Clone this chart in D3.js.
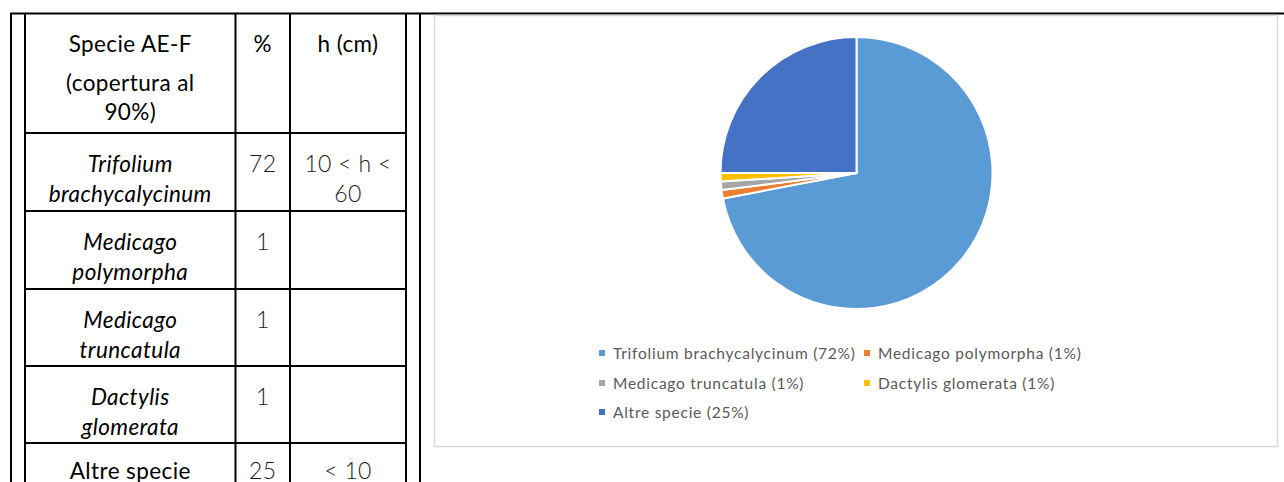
<!DOCTYPE html>
<html>
<head>
<meta charset="utf-8">
<script src="https://cdn.jsdelivr.net/npm/d3@7"></script>
<style>
  html, body { margin: 0; padding: 0; background: #fff; }
  svg { display: block; }
</style>
</head>
<body>
<svg id="page" width="1284" height="482"></svg>
<script>
// Species and cover (%) of the AE-F plot
const species = ["Trifolium brachycalycinum", "Medicago polymorpha", "Medicago truncatula", "Dactylis glomerata", "Altre specie"];
const cover = [72, 1, 1, 1, 25];
const sliceColors = ["#5B9BD5", "#ED7D31", "#A5A5A5", "#FFC000", "#4472C4"];

// Table text, as laid out in the cells
const headerLines = [["Specie AE-F", "(copertura al", "90%)"], ["%"], ["h (cm)"]];
const speciesLines = [["Trifolium", "brachycalycinum"], ["Medicago", "polymorpha"], ["Medicago", "truncatula"], ["Dactylis", "glomerata"], ["Altre specie"]];
const speciesItalic = [true, true, true, true, false];
const heightLines = [["10 < h <", "60"], [], [], [], ["< 10"]];

const svg = d3.select("#page");
const FONT = "Lato, 'Open Sans', sans-serif";

// ---------- outer frame ----------
const frame = svg.append("g").attr("stroke", "#000").attr("stroke-width", 2);
frame.append("line").attr("x1", 10).attr("x2", 1284).attr("y1", 13.5).attr("y2", 13.5);
frame.append("line").attr("x1", 11).attr("x2", 11).attr("y1", 13).attr("y2", 482);
frame.append("line").attr("x1", 420).attr("x2", 420).attr("y1", 13).attr("y2", 482);

// ---------- nested table ----------
const colEdges = [25, 235.5, 290, 406];
const rowEdges = [13.5, 133, 211, 289, 366, 443, 521];

const tbl = svg.append("g");
tbl.selectAll("line.v").data(colEdges).join("line")
  .attr("class", "v")
  .attr("x1", d => d).attr("x2", d => d)
  .attr("y1", 13).attr("y2", 482)
  .attr("stroke", "#000").attr("stroke-width", 2);
tbl.selectAll("line.h").data(rowEdges.slice(1)).join("line")
  .attr("class", "h")
  .attr("x1", colEdges[0]).attr("x2", colEdges[3])
  .attr("y1", d => d).attr("y2", d => d)
  .attr("stroke", "#000").attr("stroke-width", 2);

const colCenter = i => (colEdges[i] + colEdges[i + 1]) / 2;

// lines: strings; offsets: baseline of each line below the row top
function cellText(lines, col, rowTop, offsets, opts) {
  const t = tbl.append("text")
    .attr("text-anchor", "middle")
    .attr("font-family", FONT)
    .attr("font-size", opts.size)
    .attr("letter-spacing", opts.spacing || 0)
    .attr("font-style", opts.italic ? "italic" : "normal")
    .attr("font-weight", opts.weight || 400)
    .attr("fill", opts.fill || "#000");
  lines.forEach((s, k) => {
    t.append("tspan").attr("x", colCenter(col)).attr("y", rowTop + offsets[k]).text(s);
  });
}

const bodyFont = { size: 22.5, spacing: 0.4 };
const numFont = { size: 23, spacing: 0.3, weight: 300, fill: "#1a1a1a" };

// header: first paragraph, then the wrapped note below it
const headerOffsets = [38.5, 77, 106];
headerLines.forEach((lines, c) => cellText(lines, c, rowEdges[0], headerOffsets, bodyFont));

// body rows
species.forEach((s, i) => {
  const top = rowEdges[i + 1];
  const first = i === species.length - 1 ? 36 : 38.5;
  const offs = [first, first + 30];
  cellText(speciesLines[i], 0, top, offs, { ...bodyFont, italic: speciesItalic[i] });
  cellText([String(cover[i])], 1, top, offs, numFont);
  cellText(heightLines[i], 2, top, offs, numFont);
});

// ---------- chart area ----------
svg.append("rect")
  .attr("x", 434.5).attr("y", 15.5).attr("width", 843).attr("height", 431)
  .attr("fill", "#fff").attr("stroke", "#D9D9D9").attr("stroke-width", 1.5);

const cx = 856.5, cy = 173, radius = 136;
const pie = d3.pie().sort(null).value(d => d.value);
const arc = d3.arc().innerRadius(0).outerRadius(radius);
const slices = pie(species.map((s, i) => ({ name: s, value: cover[i], color: sliceColors[i] })));

svg.append("g").attr("transform", `translate(${cx},${cy})`)
  .selectAll("path").data(slices).join("path")
  .attr("d", arc)
  .attr("fill", d => d.data.color)
  .attr("stroke", "#fff").attr("stroke-width", 2).attr("stroke-linejoin", "round");

// ---------- legend ----------
const legendCols = [599, 864];
const legendRows = [353, 383, 412];
const legendPos = [[0, 0], [1, 0], [0, 1], [1, 1], [0, 2]];
const legend = svg.append("g").attr("font-family", FONT).attr("font-size", 15.5)
  .attr("letter-spacing", 0.75).attr("fill", "#595959");
slices.forEach((d, i) => {
  const [c, r] = legendPos[i];
  const g = legend.append("g").attr("transform", `translate(${legendCols[c]},${legendRows[r]})`);
  g.append("rect").attr("x", 0).attr("y", -3).attr("width", 6).attr("height", 6).attr("fill", d.data.color);
  g.append("text").attr("x", 14).attr("y", 5.5).text(`${d.data.name} (${d.data.value}%)`);
});
</script>
</body>
</html>
